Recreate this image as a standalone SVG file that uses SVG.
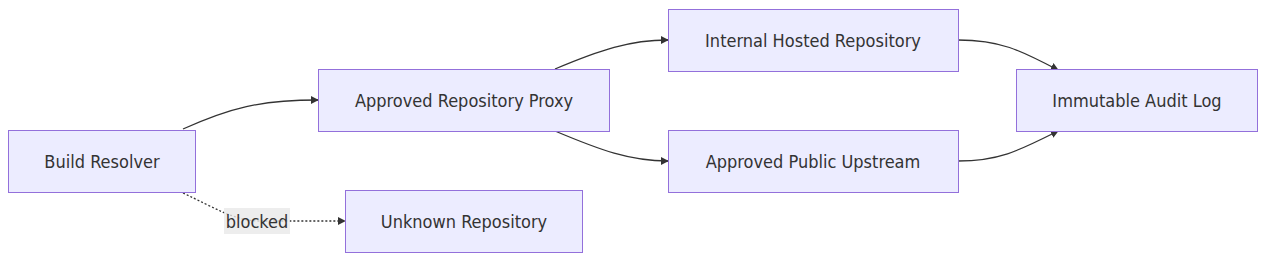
<svg xmlns="http://www.w3.org/2000/svg" width="1280" height="266" viewBox="0 0 1280 266">
<style>
.node rect{fill:#ECECFF;stroke:#9370DB;stroke-width:1}
.node text,.lbl text{font-family:"DejaVu Sans Condensed","DejaVu Sans",sans-serif;font-stretch:condensed;font-size:18px;fill:#333;text-anchor:middle;dominant-baseline:central}
.edge{fill:none;stroke:#333;stroke-width:1.3}
.dot{stroke-dasharray:2 2}
</style>
<defs>
<marker id="arr" viewBox="0 0 10 10" refX="9" refY="5" markerWidth="8" markerHeight="8" orient="auto" markerUnits="userSpaceOnUse">
<path d="M0,0 L10,5 L0,10 z" fill="#333"/>
</marker>
</defs>
<rect width="1280" height="266" fill="#fff"/>
<g id="connectors">
<path class="edge" d="M183,129 C230,108 260,100 318,100" marker-end="url(#arr)"/>
<path class="edge" d="M555,69 C600,50 630,40 668,40" marker-end="url(#arr)"/>
<path class="edge" d="M555,131 C600,150 630,161 668,161" marker-end="url(#arr)"/>
<path class="edge" d="M958,40 C1000,40 1020,50 1058,70" marker-end="url(#arr)"/>
<path class="edge" d="M958,161 C1000,161 1020,150 1058,131" marker-end="url(#arr)"/>
<path class="edge dot" d="M183,193 C215,208 235,221 260,221 L345,221" marker-end="url(#arr)"/>
</g>
<g id="label-blocked" class="lbl">
<rect x="224" y="208" width="66" height="26" fill="#e8e8e8" opacity="0.8"/>
<text x="257" y="221">blocked</text>
</g>
<g id="build-resolver" class="node">
<rect x="8.5" y="130.5" width="187" height="62"/>
<text x="102" y="161.5">Build Resolver</text>
</g>
<g id="approved-proxy" class="node">
<rect x="318.5" y="69.5" width="291" height="62"/>
<text x="464" y="100.5">Approved Repository Proxy</text>
</g>
<g id="unknown-repo" class="node">
<rect x="345.5" y="190.5" width="237" height="62"/>
<text x="464" y="221.5">Unknown Repository</text>
</g>
<g id="internal-hosted" class="node">
<rect x="668.5" y="9.5" width="290" height="62"/>
<text x="813" y="40.5">Internal Hosted Repository</text>
</g>
<g id="public-upstream" class="node">
<rect x="668.5" y="130.5" width="290" height="62"/>
<text x="813" y="161.5">Approved Public Upstream</text>
</g>
<g id="audit-log" class="node">
<rect x="1016.5" y="69.5" width="241" height="62"/>
<text x="1137" y="100.5">Immutable Audit Log</text>
</g>
</svg>
